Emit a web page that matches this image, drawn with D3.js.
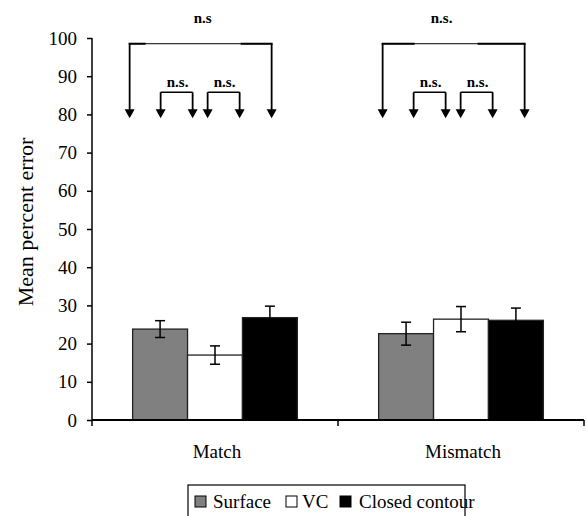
<!DOCTYPE html>
<html>
<head>
<meta charset="utf-8">
<script src="https://cdn.jsdelivr.net/npm/d3@7"></script>
<style>
  body { margin: 0; background: #fff; }
</style>
</head>
<body>
<svg id="chart" width="586" height="516"></svg>
<script>
var categories = ["Match", "Mismatch"];
var seriesNames = ["Surface", "VC", "Closed contour"];
var seriesColors = ["#808080", "#ffffff", "#000000"];
var surfaceMeans = [23.8, 22.6];
var surfaceErrs = [2.2, 3.0];
var vcMeans = [17.0, 26.4];
var vcErrs = [2.4, 3.3];
var closedMeans = [26.8, 26.1];
var closedErrs = [3.0, 3.2];
var yTicks = [0, 10, 20, 30, 40, 50, 60, 70, 80, 90, 100];
var bigLabels = ["n.s", "n.s."];
var smallLabels = ["n.s.", "n.s."];

var FONT = "Liberation Serif";
var svg = d3.select("#chart");
var pLeft = 92, pRight = 584, pTop = 38, pBottom = 420;

var x = d3.scaleBand().domain(categories).range([pLeft, pRight]);
var xs = d3.scaleBand().domain(seriesNames).range([0, x.bandwidth()]).paddingOuter(0.74);
var y = d3.scaleLinear().domain([0, 100]).range([pBottom, pTop]);

var table = categories.map(function(c, i) {
  return {
    cat: c,
    vals: [
      {s: seriesNames[0], m: surfaceMeans[i], e: surfaceErrs[i]},
      {s: seriesNames[1], m: vcMeans[i], e: vcErrs[i]},
      {s: seriesNames[2], m: closedMeans[i], e: closedErrs[i]}
    ]
  };
});

// bars
var g = svg.selectAll(".grp").data(table).enter().append("g")
  .attr("transform", function(d) { return "translate(" + x(d.cat) + ",0)"; });

g.selectAll("rect").data(function(d) { return d.vals; }).enter().append("rect")
  .attr("x", function(d) { return xs(d.s); })
  .attr("width", xs.bandwidth())
  .attr("y", function(d) { return y(d.m); })
  .attr("height", function(d) { return y(0) - y(d.m); })
  .attr("fill", function(d, i) { return seriesColors[i]; })
  .attr("stroke", "#222")
  .attr("stroke-width", 1.3);

// error bars
var eb = g.selectAll(".eb").data(function(d) { return d.vals; }).enter().append("g")
  .attr("transform", function(d) { return "translate(" + (xs(d.s) + xs.bandwidth() / 2) + ",0)"; })
  .attr("stroke", "#000").attr("stroke-width", 1.5);
eb.append("line").attr("x1", 0).attr("x2", 0)
  .attr("y1", function(d) { return y(d.m + d.e); })
  .attr("y2", function(d) { return y(d.m - d.e); });
eb.append("line").attr("x1", -5).attr("x2", 5)
  .attr("y1", function(d) { return y(d.m + d.e); })
  .attr("y2", function(d) { return y(d.m + d.e); });
eb.append("line").attr("x1", -5).attr("x2", 5)
  .attr("y1", function(d) { return y(d.m - d.e); })
  .attr("y2", function(d) { return y(d.m - d.e); });

// y axis
var yAxis = d3.axisLeft(y).tickValues(yTicks).tickSize(5).tickPadding(10);
var ya = svg.append("g").attr("transform", "translate(" + pLeft + ",0)").call(yAxis);
ya.select(".domain").attr("d", "M0," + pTop + "V" + (pBottom + 6)).attr("stroke-width", 1.5);
ya.selectAll(".tick line").attr("stroke-width", 1.5);
ya.selectAll("text").style("font-size", "19px").style("font-family", FONT).attr("fill", "#000");

// x axis
svg.append("line").attr("x1", pLeft).attr("x2", pRight).attr("y1", pBottom).attr("y2", pBottom)
  .attr("stroke", "#000").attr("stroke-width", 2);
svg.selectAll(".xtick").data(categories.slice(1).map(function(c) { return x(c); }).concat([pRight]))
  .enter().append("line")
  .attr("x1", function(d) { return d; }).attr("x2", function(d) { return d; })
  .attr("y1", pBottom).attr("y2", pBottom + 6)
  .attr("stroke", "#000").attr("stroke-width", 1.5);
svg.selectAll(".xlab").data(categories).enter().append("text")
  .attr("x", function(d) { return x(d) + x.bandwidth() / 2 + 2; })
  .attr("y", 458)
  .attr("text-anchor", "middle")
  .style("font-family", FONT)
  .style("font-size", "19px")
  .text(function(d) { return d; });

// y title
svg.append("text")
  .attr("transform", "translate(33,222) rotate(-90)")
  .attr("text-anchor", "middle")
  .style("font-family", FONT)
  .style("font-size", "22px")
  .text("Mean percent error");

// significance brackets
var arrowDx = [0, 31, 63, 78, 110, 142];
var groupShift = [-3, 4];
var tipY = y(79), bigY = y(98.5), smallY = y(85.8);
var ann = svg.append("g");
categories.forEach(function(c, i) {
  var x0 = x(c) + xs(seriesNames[0]) + groupShift[i];
  var ax = arrowDx.map(function(d) { return x0 + d; });
  function arrow(px, fromY) {
    ann.append("line").attr("x1", px).attr("x2", px).attr("y1", fromY).attr("y2", tipY - 8)
      .attr("stroke", "#000").attr("stroke-width", 1.8);
    ann.append("path").attr("d", "M" + (px - 5) + "," + (tipY - 9) + "L" + (px + 5) + "," + (tipY - 9) + "L" + px + "," + tipY + "Z")
      .attr("fill", "#000");
  }
  // big bracket, thicker near the ends
  ann.append("line").attr("x1", ax[0]).attr("x2", ax[5]).attr("y1", bigY).attr("y2", bigY)
    .attr("stroke", "#000").attr("stroke-width", 1);
  ann.append("line").attr("x1", ax[0] - 1).attr("x2", ax[0] + (i ? 32 : 16)).attr("y1", bigY).attr("y2", bigY)
    .attr("stroke", "#000").attr("stroke-width", 2);
  ann.append("line").attr("x1", ax[5] - (i ? 47 : 31)).attr("x2", ax[5] + 1).attr("y1", bigY).attr("y2", bigY)
    .attr("stroke", "#000").attr("stroke-width", 2);
  arrow(ax[0], bigY);
  arrow(ax[5], bigY);
  ann.append("text").attr("x", (ax[0] + ax[5]) / 2 + (i ? -12 : 2)).attr("y", 23)
    .attr("text-anchor", "middle")
    .style("font-family", FONT).style("font-size", "15px").style("font-weight", "bold")
    .text(bigLabels[i]);
  // small brackets
  [[1, 2], [3, 4]].forEach(function(p) {
    ann.append("line").attr("x1", ax[p[0]]).attr("x2", ax[p[1]]).attr("y1", smallY).attr("y2", smallY)
      .attr("stroke", "#000").attr("stroke-width", 1.5);
    arrow(ax[p[0]], smallY);
    arrow(ax[p[1]], smallY);
    ann.append("text").attr("x", (ax[p[0]] + ax[p[1]]) / 2 + 1).attr("y", smallY - 5)
      .attr("text-anchor", "middle")
      .style("font-family", FONT).style("font-size", "15px").style("font-weight", "bold")
      .text(smallLabels[i]);
  });
});

// legend
var lg = svg.append("g").attr("transform", "translate(188,485)");
lg.append("rect").attr("x", 0).attr("y", 0).attr("width", 277).attr("height", 40)
  .attr("fill", "#fff").attr("stroke", "#000").attr("stroke-width", 1.2);
var lx = [7, 98, 152];
var ltx = [25, 114, 171];
seriesNames.forEach(function(s, i) {
  lg.append("rect").attr("x", lx[i]).attr("y", 11).attr("width", 11).attr("height", 11)
    .attr("fill", seriesColors[i]).attr("stroke", "#000").attr("stroke-width", 1);
  lg.append("text").attr("x", ltx[i]).attr("y", 23)
    .style("font-family", FONT).style("font-size", "19px").text(s);
});
</script>
</body>
</html>
